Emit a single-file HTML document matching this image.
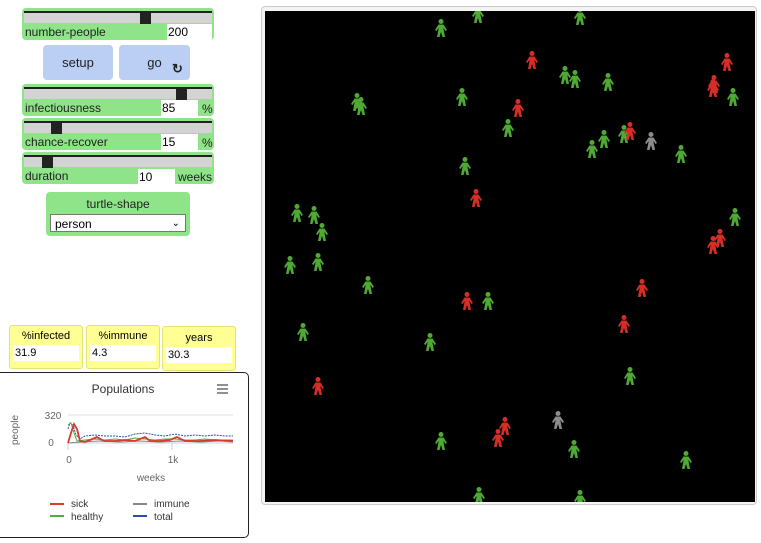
<!DOCTYPE html>
<html><head><style>
body{margin:0;width:761px;height:543px;background:#fff;font-family:"Liberation Sans",Arial,sans-serif;position:relative;overflow:hidden}
.a{position:absolute}
.sl{background:#8fe388;border-radius:4px}
.tr{position:absolute;left:2px;right:2px;top:3px;height:10px;background:#d3d3d3;border-top:2px solid #222}
.hd{position:absolute;top:4px;width:11px;height:12px;background:#222}
.lb{position:absolute;font-size:12px;color:#222}
.vb{position:absolute;background:#fff;font-size:12px;height:16px;line-height:16px;padding-left:1px}
.btn{background:#bacff3;border-radius:4px;font-size:13px;text-align:center;color:#222}
.mon{background:#ffff94;border:1px solid #e2e27a;border-radius:3px;font-size:11px}
.mon .t{text-align:center;margin-top:4px}
.mon .v{background:#fff;margin:3px 3px 0 3px;height:16px;line-height:16px;padding-left:2px;font-size:11px}
</style></head><body>
<div class="a sl" style="left:22px;top:8px;width:192px;height:32px">
 <div class="tr"></div><div class="hd" style="left:118px"></div>
 <div class="lb" style="left:3px;top:17px">number-people</div>
 <div class="vb" style="left:145px;top:16px;width:44px;height:16px">200</div>
</div>
<div class="a btn" style="left:43px;top:45px;width:70px;height:35px;line-height:35px">setup</div>
<div class="a btn" style="left:119px;top:45px;width:71px;height:35px;line-height:35px">go<span style="position:absolute;left:53px;top:6px;font-weight:bold;font-size:13px">↻</span></div>
<div class="a sl" style="left:22px;top:84px;width:192px;height:32px">
 <div class="tr"></div><div class="hd" style="left:154px"></div>
 <div class="lb" style="left:3px;top:17px">infectiousness</div>
 <div class="vb" style="left:139px;top:16px;width:36px">85</div>
 <div class="lb" style="left:180px;top:18px">%</div>
</div>
<div class="a sl" style="left:22px;top:118px;width:192px;height:32px">
 <div class="tr"></div><div class="hd" style="left:29px"></div>
 <div class="lb" style="left:3px;top:17px">chance-recover</div>
 <div class="vb" style="left:139px;top:16px;width:36px">15</div>
 <div class="lb" style="left:180px;top:18px">%</div>
</div>
<div class="a sl" style="left:22px;top:152px;width:192px;height:32px">
 <div class="tr"></div><div class="hd" style="left:20px"></div>
 <div class="lb" style="left:3px;top:17px">duration</div>
 <div class="vb" style="left:116px;top:17px;width:36px">10</div>
 <div class="lb" style="left:156px;top:18px">weeks</div>
</div>
<div class="a sl" style="left:46px;top:192px;width:144px;height:44px">
 <div class="lb" style="left:0;right:0;text-align:center;top:5px">turtle-shape</div>
 <div class="a" style="left:4px;top:22px;height:18px;background:#fff;border:1px solid #777;font-size:12px;line-height:18px;padding-left:4px;box-sizing:border-box;width:136px">person<span style="position:absolute;right:5px;top:0;font-size:10px">⌄</span></div>
</div>
<div class="a mon" style="left:9px;top:325px;width:72px;height:42px"><div class="t">%infected</div><div class="v">31.9</div></div>
<div class="a mon" style="left:86px;top:325px;width:72px;height:42px"><div class="t">%immune</div><div class="v">4.3</div></div>
<div class="a mon" style="left:162px;top:326px;width:72px;height:43px"><div class="t" style="margin-top:5px">years</div><div class="v">30.3</div></div>
<div class="a" style="left:0;top:372px;width:248px;height:164px;border:1px solid #222;border-radius:5px;border-left:none;border-top-left-radius:0;border-bottom-left-radius:0">
<svg width="248" height="164" style="position:absolute;left:0;top:0">
<text x="123" y="20" font-size="12" text-anchor="middle" fill="#333" font-family="Liberation Sans">Populations</text>
<g stroke="#555" stroke-width="1.3"><line x1="217" y1="12" x2="228" y2="12"/><line x1="217" y1="16" x2="228" y2="16"/><line x1="217" y1="20" x2="228" y2="20"/></g>
<line x1="68" y1="42" x2="233" y2="42" stroke="#ddd"/>
<text x="53" y="46" font-size="10" fill="#666" text-anchor="middle" font-family="Liberation Sans">320</text>
<text x="51" y="73" font-size="10" fill="#666" text-anchor="middle" font-family="Liberation Sans">0</text>
<text x="18" y="57" font-size="10" fill="#666" text-anchor="middle" transform="rotate(-90 18 57)" font-family="Liberation Sans">people</text>
<line x1="68" y1="70" x2="233" y2="70" stroke="#ccd"/>
<line x1="68" y1="70" x2="68" y2="77" stroke="#ccd"/><line x1="172" y1="70" x2="172" y2="77" stroke="#ccd"/>
<text x="69" y="90" font-size="10" fill="#666" text-anchor="middle" font-family="Liberation Sans">0</text>
<text x="173" y="90" font-size="10" fill="#666" text-anchor="middle" font-family="Liberation Sans">1k</text>
<text x="151" y="108" font-size="10" fill="#666" text-anchor="middle" font-family="Liberation Sans">weeks</text>
<polyline fill="none" stroke="#2a4ea8" stroke-width="1" stroke-dasharray="2,1" points="68,56 70,50 73,52 76,62 80,66 85,63 95,62 105,63 115,63 125,64 135,61 145,60 155,62 165,63 175,61 185,63 195,62 205,63 215,62 225,63 233,63"/>
<polyline fill="none" stroke="#4caf3f" stroke-width="1" points="68,52 71,50 74,60 77,68 85,67 95,66 105,67 115,66 125,67 135,65 145,66 155,67 165,66 175,66 185,67 195,67 205,66 215,67 225,67 233,67"/>
<polyline fill="none" stroke="#888" stroke-width="1" points="68,70 80,69 100,68 120,69 140,68 160,69 180,68 200,69 220,68 233,69"/>
<polyline fill="none" stroke="#d83b2b" stroke-width="1.8" points="68,70 71,60 74,51 77,56 80,68 85,69 90,67 97,64 104,68 115,68 125,67 135,68 145,64 150,68 160,68 170,67 177,64 185,68 200,68 215,67 233,68"/>
<line x1="50" y1="131" x2="64" y2="131" stroke="#d83b2b" stroke-width="2"/>
<line x1="50" y1="143" x2="64" y2="143" stroke="#4caf3f" stroke-width="2"/>
<line x1="133" y1="131" x2="147" y2="131" stroke="#888" stroke-width="2"/>
<line x1="133" y1="143" x2="147" y2="143" stroke="#2a4ea8" stroke-width="2"/>
<g font-size="10" fill="#333" font-family="Liberation Sans"><text x="71" y="134">sick</text><text x="71" y="147">healthy</text><text x="154" y="134">immune</text><text x="154" y="147">total</text></g>
</svg></div>
<div class="a" style="left:261px;top:6px;width:496px;height:499px;border:1px solid #ccc;border-radius:4px;box-sizing:border-box;background:#f4f4f4"></div>
<svg class="a" style="left:265px;top:11px" width="490" height="491">
<defs><symbol id="p" viewBox="-6 -9 12 18" overflow="visible"><circle cx="0" cy="-6.5" r="2.5"/><path d="M-2.5,-3.5 H2.5 L6,2 L4.5,3 L2.5,0 V1 L4,9 H1.5 L0,4 L-1.5,9 H-4 L-2.5,1 V0 L-4.5,3 L-6,2 Z"/></symbol></defs>
<rect width="490" height="491" fill="#000"/>
<g fill="#4ea935" transform="translate(-265,-11)">
<use href="#p" x="435" y="19" width="12" height="18"/><use href="#p" x="472" y="5" width="12" height="18"/><use href="#p" x="574" y="7" width="12" height="18"/><use href="#p" x="559" y="66" width="12" height="18"/><use href="#p" x="569" y="70" width="12" height="18"/><use href="#p" x="602" y="73" width="12" height="18"/><use href="#p" x="727" y="88" width="12" height="18"/><use href="#p" x="351" y="93" width="12" height="18"/><use href="#p" x="355" y="97" width="12" height="18"/><use href="#p" x="456" y="88" width="12" height="18"/><use href="#p" x="502" y="119" width="12" height="18"/><use href="#p" x="598" y="130" width="12" height="18"/><use href="#p" x="586" y="140" width="12" height="18"/><use href="#p" x="618" y="125" width="12" height="18"/><use href="#p" x="675" y="145" width="12" height="18"/><use href="#p" x="459" y="157" width="12" height="18"/><use href="#p" x="729" y="208" width="12" height="18"/><use href="#p" x="291" y="204" width="12" height="18"/><use href="#p" x="308" y="206" width="12" height="18"/><use href="#p" x="316" y="223" width="12" height="18"/><use href="#p" x="284" y="256" width="12" height="18"/><use href="#p" x="312" y="253" width="12" height="18"/><use href="#p" x="362" y="276" width="12" height="18"/><use href="#p" x="482" y="292" width="12" height="18"/><use href="#p" x="297" y="323" width="12" height="18"/><use href="#p" x="424" y="333" width="12" height="18"/><use href="#p" x="624" y="367" width="12" height="18"/><use href="#p" x="568" y="440" width="12" height="18"/><use href="#p" x="435" y="432" width="12" height="18"/><use href="#p" x="680" y="451" width="12" height="18"/><use href="#p" x="473" y="487" width="12" height="18"/><use href="#p" x="574" y="490" width="12" height="18"/>
</g>
<g fill="#d42e27" transform="translate(-265,-11)">
<use href="#p" x="526" y="51" width="12" height="18"/><use href="#p" x="721" y="53" width="12" height="18"/><use href="#p" x="708" y="75" width="12" height="18"/><use href="#p" x="707" y="79" width="12" height="18"/><use href="#p" x="512" y="99" width="12" height="18"/><use href="#p" x="624" y="122" width="12" height="18"/><use href="#p" x="470" y="189" width="12" height="18"/><use href="#p" x="714" y="229" width="12" height="18"/><use href="#p" x="707" y="236" width="12" height="18"/><use href="#p" x="636" y="279" width="12" height="18"/><use href="#p" x="461" y="292" width="12" height="18"/><use href="#p" x="618" y="315" width="12" height="18"/><use href="#p" x="312" y="377" width="12" height="18"/><use href="#p" x="499" y="417" width="12" height="18"/><use href="#p" x="492" y="429" width="12" height="18"/>
</g>
<g fill="#8c8c8c" transform="translate(-265,-11)">
<use href="#p" x="645" y="132" width="12" height="18"/><use href="#p" x="552" y="411" width="12" height="18"/>
</g>
</svg>
</body></html>
